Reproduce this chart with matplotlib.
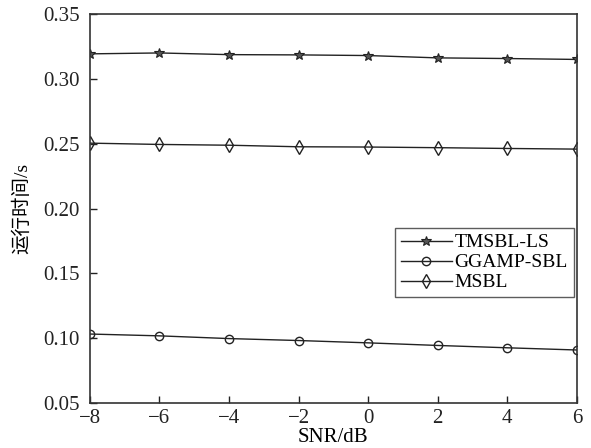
import numpy as np
import matplotlib.pyplot as plt

plt.rcParams['font.family'] = ['Liberation Serif', 'Noto Sans CJK SC']

snr = [-8, -6, -4, -2, 0, 2, 4, 6]
tmsbl_ls = [0.3192, 0.3199, 0.3186, 0.3184, 0.3179, 0.3161, 0.3156, 0.3149]
ggamp_sbl = [0.1033, 0.1019, 0.0998, 0.0983, 0.0965, 0.0945, 0.0927, 0.0910]
msbl = [0.2504, 0.2494, 0.2488, 0.2476, 0.2474, 0.2469, 0.2463, 0.2458]

xticks = [-8, -6, -4, -2, 0, 2, 4, 6]
xticklabels = ['\u22128', '\u22126', '\u22124', '\u22122', '0', '2', '4', '6']
yticks = [0.05, 0.10, 0.15, 0.20, 0.25, 0.30, 0.35]

fig = plt.figure(figsize=(5.91, 4.48), dpi=100)
ax = fig.add_axes([0.152, 0.1, 0.824, 0.869])

lc = '#222222'
ax.plot(snr, tmsbl_ls, color=lc, lw=1.0, marker='*', ms=7, mfc='#555555', mec=lc, mew=0.8, label='TMSBL-LS')
ax.plot(snr, ggamp_sbl, color=lc, lw=1.0, marker='o', ms=6, mfc='none', mec=lc, mew=1.0, label='GGAMP-SBL')
ax.plot(snr, msbl, color=lc, lw=1.0, marker='d', ms=7, mfc='none', mec=lc, mew=1.0, label='MSBL')

ax.set_xlim(-8, 6)
ax.set_ylim(0.05, 0.35)
ax.set_xticks(xticks)
ax.set_xticklabels(xticklabels)
ax.set_yticks(yticks)
ax.set_yticklabels(['%.2f' % v for v in yticks])
ax.tick_params(direction='in', length=5, width=1, labelsize=15, colors='#222222')
ax.tick_params(axis='x', pad=4)
ax.tick_params(axis='y', pad=7)
for s in ax.spines.values():
    s.set_color('#333333')
    s.set_linewidth(1.2)

ax.set_xlabel('SNR/dB', fontsize=15, labelpad=0)
ax.set_ylabel('运行时间/s', fontsize=14, labelpad=9)

leg = ax.legend(loc='upper right', bbox_to_anchor=(0.994, 0.45), fontsize=14,
                frameon=True, fancybox=False, edgecolor='#333333', borderaxespad=0,
                handlelength=2.6, handletextpad=0.15, labelspacing=0.12, borderpad=0.3)
leg.get_frame().set_linewidth(1.0)

fig.savefig('out.png', dpi=100)
